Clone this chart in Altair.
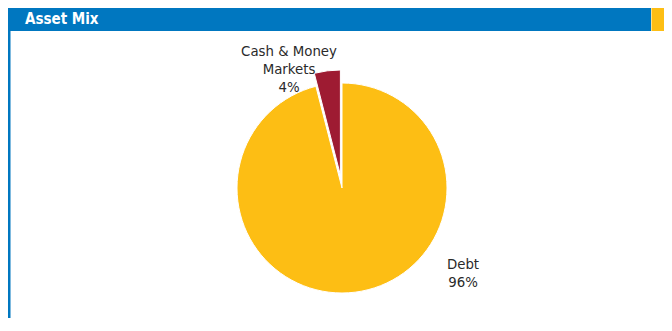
import altair as alt
import pandas as pd

# ---- data ----
categories = ["Debt", "Cash & Money Markets"]
shares = [96, 4]
label_texts = ["Debt\n96%", "Cash & Money\nMarkets\n4%"]
title_text = ["Asset Mix"]

BLUE = "#0077C0"
YELLOW = "#FDBE14"
RED = "#9E1B32"
TEXT = "#2a2a2a"
FONT = "DejaVu Sans Condensed, DejaVu Sans"

W, H = 656, 310
CX, CY = 334, 180
R = 105

df = pd.DataFrame({"category": categories, "share": shares, "label": label_texts})

base = (
    alt.Chart(df)
    .transform_joinaggregate(total="sum(share)")
    .transform_stack(
        stack="share",
        as_=["s0", "s1"],
        groupby=[],
        sort=[alt.SortField("category", order="descending")],
    )
    .transform_calculate(
        t0="datum.s0 / datum.total * 2 * PI",
        t1="datum.s1 / datum.total * 2 * PI",
    )
)

debt = base.transform_filter(alt.datum.category == "Debt").mark_arc(
    radius=R, stroke="white", strokeWidth=1
).encode(
    theta=alt.Theta("t0:Q", scale=None),
    theta2="t1:Q",
    x=alt.value(CX),
    y=alt.value(CY),
    color=alt.value(YELLOW),
)

cash = base.transform_filter(alt.datum.category != "Debt").mark_arc(
    radius=R, stroke="white", strokeWidth=1, xOffset=-1.6, yOffset=-13
).encode(
    theta=alt.Theta("t0:Q", scale=None),
    theta2="t1:Q",
    x=alt.value(CX),
    y=alt.value(CY),
    color=alt.value(RED),
)

label_style = dict(
    font=FONT, fontSize=14.8, color=TEXT, align="center",
    baseline="middle", lineBreak="\n", lineHeight=18,
)

debt_label = alt.Chart(df).transform_filter(alt.datum.category == "Debt").mark_text(
    **label_style
).encode(text="label:N", x=alt.value(455), y=alt.value(257))

cash_label = alt.Chart(df).transform_filter(alt.datum.category != "Debt").mark_text(
    **label_style
).encode(text="label:N", x=alt.value(281), y=alt.value(44))

tdf = pd.DataFrame({"t": title_text})
header = alt.Chart(tdf).mark_rect(color=BLUE).encode(
    x=alt.value(0), x2=alt.value(643), y=alt.value(0), y2=alt.value(23)
)
corner = alt.Chart(tdf).mark_rect(color=YELLOW).encode(
    x=alt.value(643.5), x2=alt.value(W), y=alt.value(0), y2=alt.value(23)
)
border = alt.Chart(tdf).mark_rect(color=BLUE).encode(
    x=alt.value(0), x2=alt.value(2.5), y=alt.value(23), y2=alt.value(H)
)
title = alt.Chart(tdf).mark_text(
    font=FONT, fontSize=15, fontWeight="bold", color="white",
    align="left", baseline="middle",
).encode(text="t:N", x=alt.value(17), y=alt.value(11))

chart = (
    alt.layer(header, corner, border, title, debt, cash, debt_label, cash_label)
    .properties(width=W, height=H, padding=0, autosize="none")
    .configure_view(stroke=None)
)

chart.save("out.html", embed_options={"renderer": "svg", "actions": False})
